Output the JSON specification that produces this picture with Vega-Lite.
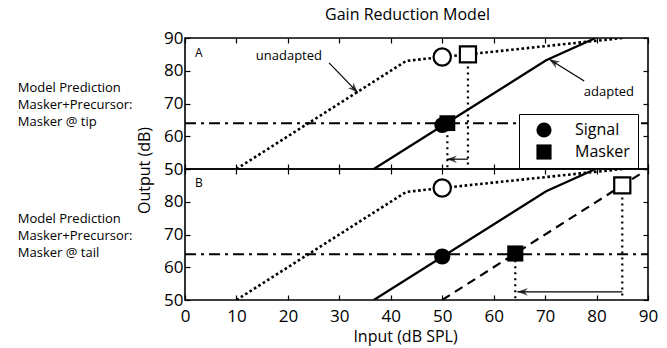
{
  "$schema": "https://vega.github.io/schema/vega-lite/v6.json",
  "padding": {"left": 17, "top": 6, "right": 5, "bottom": 5},
  "bounds": "flush",
  "config": {
    "font": "Open Sans",
    "view": {"stroke": "black", "strokeWidth": 1.6},
    "axis": {"grid": false, "domain": false, "tickColor": "black", "tickSize": -5, "tickWidth": 1.2, "labelPadding": 8, "labelFontSize": 17, "labelColor": "black", "labelFlush": false, "labelOverlap": false, "titleColor": "black", "titleFontWeight": "normal", "titleFontSize": 16},
    "title": {"fontSize": 16, "fontWeight": "normal", "color": "black"},
    "legend": {"labelColor": "black"}
  },
  "datasets": {
    "curves": [
      {"panel": "A", "curve": "unadapted", "x": 10, "y": 50},
      {"panel": "A", "curve": "unadapted", "x": 43, "y": 83},
      {"panel": "A", "curve": "unadapted", "x": 50, "y": 84.2},
      {"panel": "A", "curve": "unadapted", "x": 55, "y": 85},
      {"panel": "A", "curve": "unadapted", "x": 85, "y": 90},
      {"panel": "A", "curve": "adapted", "x": 36.7, "y": 50},
      {"panel": "A", "curve": "adapted", "x": 70.2, "y": 83.2},
      {"panel": "A", "curve": "adapted", "x": 79.8, "y": 90},
      {"panel": "B", "curve": "unadapted", "x": 10, "y": 50},
      {"panel": "B", "curve": "unadapted", "x": 43, "y": 83},
      {"panel": "B", "curve": "unadapted", "x": 50, "y": 84.2},
      {"panel": "B", "curve": "unadapted", "x": 85, "y": 90},
      {"panel": "B", "curve": "adapted", "x": 36.7, "y": 50},
      {"panel": "B", "curve": "adapted", "x": 70.2, "y": 83.2},
      {"panel": "B", "curve": "adapted", "x": 79.8, "y": 90},
      {"panel": "B", "curve": "shifted", "x": 50, "y": 50},
      {"panel": "B", "curve": "shifted", "x": 88.6, "y": 88.6}
    ],
    "ref": [
      {"panel": "A", "x": 0, "x2": 90, "y": 64},
      {"panel": "B", "x": 0, "x2": 90, "y": 64}
    ],
    "guides": [
      {"panel": "A", "g": "open", "x": 55, "y": 85},
      {"panel": "A", "g": "open", "x": 55, "y": 50},
      {"panel": "A", "g": "filled", "x": 51, "y": 64},
      {"panel": "A", "g": "filled", "x": 51, "y": 50.5},
      {"panel": "B", "g": "open", "x": 85, "y": 85},
      {"panel": "B", "g": "open", "x": 85, "y": 50},
      {"panel": "B", "g": "filled", "x": 64.2, "y": 64},
      {"panel": "B", "g": "filled", "x": 64.2, "y": 50}
    ],
    "markers": [
      {"panel": "A", "role": "Signal", "kind": "open", "x": 50, "y": 84.2},
      {"panel": "A", "role": "Masker", "kind": "open", "x": 55, "y": 85},
      {"panel": "A", "role": "Signal", "kind": "filled", "x": 50, "y": 63.4},
      {"panel": "A", "role": "Masker", "kind": "filled", "x": 51, "y": 64},
      {"panel": "B", "role": "Signal", "kind": "open", "x": 50, "y": 84.2},
      {"panel": "B", "role": "Masker", "kind": "open", "x": 85, "y": 85},
      {"panel": "B", "role": "Signal", "kind": "filled", "x": 50, "y": 63.3},
      {"panel": "B", "role": "Masker", "kind": "filled", "x": 64.2, "y": 64.2}
    ],
    "arrows": [
      {"panel": "A", "arrow": "shift", "end": "tail", "x": 55, "y": 53},
      {"panel": "A", "arrow": "shift", "end": "head", "x": 50.9, "y": 53},
      {"panel": "A", "arrow": "unadapted", "end": "tail", "x": 28, "y": 82.4},
      {"panel": "A", "arrow": "unadapted", "end": "head", "x": 33.6, "y": 73.3},
      {"panel": "A", "arrow": "adapted", "end": "tail", "x": 77.6, "y": 76.9},
      {"panel": "A", "arrow": "adapted", "end": "head", "x": 70.8, "y": 83.5},
      {"panel": "B", "arrow": "shift", "end": "tail", "x": 85, "y": 52.5},
      {"panel": "B", "arrow": "shift", "end": "head", "x": 64.6, "y": 52.5}
    ],
    "words": [
      {"panel": "A", "x": 20.2, "y": 84.5, "text": "unadapted"},
      {"panel": "A", "x": 82.4, "y": 73.5, "text": "adapted"}
    ],
    "letters": [
      {"panel": "A", "x": 2.7, "y": 85.3, "text": "A"},
      {"panel": "B", "x": 2.7, "y": 85.6, "text": "B"}
    ],
    "side": [
      {"panel": "A", "x": -32.5, "y": 74.8, "text": "Model Prediction"},
      {"panel": "A", "x": -32.5, "y": 69.6, "text": "Masker+Precursor:"},
      {"panel": "A", "x": -32.5, "y": 64.4, "text": "Masker @ tip"},
      {"panel": "B", "x": -32.5, "y": 74.8, "text": "Model Prediction"},
      {"panel": "B", "x": -32.5, "y": 69.6, "text": "Masker+Precursor:"},
      {"panel": "B", "x": -32.5, "y": 64.4, "text": "Masker @ tail"}
    ]
  },
  "spacing": 0,
  "resolve": {"scale": {"shape": "independent"}, "legend": {"shape": "independent"}},
  "vconcat": [
    {
      "title": {"text": "Gain Reduction Model", "anchor": "middle", "dx": -9, "offset": 6},
      "width": 463,
      "height": 131,
      "encoding": {
        "x": {"field": "x", "type": "quantitative", "scale": {"domain": [0, 90], "nice": false, "zero": false}, "axis": null},
        "y": {"field": "y", "type": "quantitative", "scale": {"domain": [50, 90], "nice": false, "zero": false}, "axis": null}
      },
      "layer": [
        {
          "data": {"name": "ref"},
          "transform": [{"filter": "datum.panel == 'A'"}],
          "mark": {"type": "rule", "color": "black", "strokeWidth": 2, "strokeDash": [11, 5, 3, 5]},
          "encoding": {"x2": {"field": "x2"}}
        },
        {
          "data": {"name": "curves"},
          "transform": [{"filter": "datum.panel == 'A' && datum.curve == 'unadapted'"}],
          "mark": {"type": "line", "color": "black", "strokeWidth": 2.6, "strokeDash": [2.6, 2.6], "clip": true},
          "encoding": {
            "x": {"field": "x", "type": "quantitative", "axis": {"orient": "bottom", "values": [0, 10, 20, 30, 40, 50, 60, 70, 80, 90], "labels": false, "title": null}},
            "y": {"field": "y", "type": "quantitative", "axis": {"orient": "left", "values": [50, 60, 70, 80, 90], "labelPadding": 7, "title": "Output (dB)", "titleX": -41, "titleY": 132, "titleAngle": -90, "titleAlign": "center", "titleBaseline": "middle"}}
          }
        },
        {
          "data": {"name": "curves"},
          "transform": [{"filter": "datum.panel == 'A' && datum.curve == 'adapted'"}],
          "mark": {"type": "line", "color": "black", "strokeWidth": 2.3, "clip": true}
        },
        {
          "data": {"name": "guides"},
          "transform": [{"filter": "datum.panel == 'A'"}],
          "mark": {"type": "line", "color": "black", "strokeWidth": 2.2, "strokeDash": [2, 4]},
          "encoding": {
            "detail": {"field": "g"},
            "x": {"field": "x", "type": "quantitative", "axis": {"orient": "top", "values": [0, 10, 20, 30, 40, 50, 60, 70, 80, 90], "labels": false, "title": null}},
            "y": {"field": "y", "type": "quantitative", "axis": {"orient": "right", "values": [50, 60, 70, 80, 90], "labels": false, "title": null}}
          }
        },
        {
          "data": {"name": "arrows"},
          "transform": [{"filter": "datum.panel == 'A'"}],
          "mark": {"type": "line", "color": "black", "strokeWidth": 1.2},
          "encoding": {"detail": {"field": "arrow"}}
        },
        {
          "data": {"name": "arrows"},
          "transform": [{"filter": "datum.panel == 'A' && datum.end == 'head' && datum.arrow == 'shift'"}],
          "mark": {"type": "point", "shape": "M0,0L2,-0.75L1.4,0L2,0.75Z", "filled": true, "color": "black", "size": 100, "angle": 0}
        },
        {
          "data": {"name": "arrows"},
          "transform": [{"filter": "datum.panel == 'A' && datum.end == 'head' && datum.arrow == 'unadapted'"}],
          "mark": {"type": "point", "shape": "M0,0L2,-0.75L1.4,0L2,0.75Z", "filled": true, "color": "black", "size": 110, "angle": 226}
        },
        {
          "data": {"name": "arrows"},
          "transform": [{"filter": "datum.panel == 'A' && datum.end == 'head' && datum.arrow == 'adapted'"}],
          "mark": {"type": "point", "shape": "M0,0L2,-0.75L1.4,0L2,0.75Z", "filled": true, "color": "black", "size": 110, "angle": 32}
        },
        {
          "data": {"name": "markers"},
          "transform": [{"filter": "datum.panel == 'A' && datum.kind == 'open' && datum.role == 'Signal'"}],
          "mark": {"type": "point", "shape": "circle", "filled": true, "fill": "white", "stroke": "black", "strokeWidth": 2.2, "size": 300, "opacity": 1}
        },
        {
          "data": {"name": "markers"},
          "transform": [{"filter": "datum.panel == 'A' && datum.kind == 'open' && datum.role == 'Masker'"}],
          "mark": {"type": "point", "shape": "square", "filled": true, "fill": "white", "stroke": "black", "strokeWidth": 2.2, "size": 260, "opacity": 1}
        },
        {
          "data": {"name": "markers"},
          "transform": [{"filter": "datum.panel == 'A' && datum.kind == 'filled'"}],
          "mark": {"type": "point", "filled": true, "color": "black", "size": 250, "opacity": 1},
          "encoding": {
            "shape": {"field": "role", "type": "nominal", "scale": {"domain": ["Signal", "Masker"], "range": ["circle", "square"]},
              "legend": {"orient": "none", "legendX": 334, "legendY": 76, "title": null, "padding": 8, "strokeColor": "black", "fillColor": "white", "labelFontSize": 16, "labelColor": "black", "symbolSize": 230, "symbolFillColor": "black", "symbolStrokeColor": "black", "symbolStrokeWidth": 0, "symbolOffset": 9, "labelOffset": 23, "rowPadding": 6}}
          }
        },
        {
          "data": {"name": "words"},
          "transform": [{"filter": "datum.panel == 'A'"}],
          "mark": {"type": "text", "fontSize": 13, "color": "black", "align": "center", "baseline": "middle"},
          "encoding": {"text": {"field": "text"}}
        },
        {
          "data": {"name": "letters"},
          "transform": [{"filter": "datum.panel == 'A'"}],
          "mark": {"type": "text", "fontSize": 12, "color": "black", "align": "center", "baseline": "middle"},
          "encoding": {"text": {"field": "text"}}
        },
        {
          "data": {"name": "side"},
          "transform": [{"filter": "datum.panel == 'A'"}],
          "mark": {"type": "text", "fontSize": 13, "color": "black", "align": "left", "baseline": "middle", "clip": false},
          "encoding": {"text": {"field": "text"}}
        }
      ]
    },
    {
      "width": 463,
      "height": 131,
      "encoding": {
        "x": {"field": "x", "type": "quantitative", "scale": {"domain": [0, 90], "nice": false, "zero": false}, "axis": null},
        "y": {"field": "y", "type": "quantitative", "scale": {"domain": [50, 90], "nice": false, "zero": false}, "axis": null}
      },
      "layer": [
        {
          "data": {"name": "ref"},
          "transform": [{"filter": "datum.panel == 'B'"}],
          "mark": {"type": "rule", "color": "black", "strokeWidth": 2, "strokeDash": [11, 5, 3, 5]},
          "encoding": {"x2": {"field": "x2"}}
        },
        {
          "data": {"name": "curves"},
          "transform": [{"filter": "datum.panel == 'B' && datum.curve == 'unadapted'"}],
          "mark": {"type": "line", "color": "black", "strokeWidth": 2.6, "strokeDash": [2.6, 2.6], "clip": true},
          "encoding": {
            "x": {"field": "x", "type": "quantitative", "axis": {"orient": "bottom", "values": [0, 10, 20, 30, 40, 50, 60, 70, 80, 90], "labelPadding": 13, "title": "Input (dB SPL)", "titleX": 220, "titleY": 36, "titleAlign": "center", "titleBaseline": "middle"}},
            "y": {"field": "y", "type": "quantitative", "axis": {"orient": "left", "values": [50, 60, 70, 80, 90], "labelPadding": 7, "labelExpr": "datum.value == 90 ? '' : datum.label", "title": null}}
          }
        },
        {
          "data": {"name": "curves"},
          "transform": [{"filter": "datum.panel == 'B' && datum.curve == 'adapted'"}],
          "mark": {"type": "line", "color": "black", "strokeWidth": 2.3, "clip": true}
        },
        {
          "data": {"name": "curves"},
          "transform": [{"filter": "datum.panel == 'B' && datum.curve == 'shifted'"}],
          "mark": {"type": "line", "color": "black", "strokeWidth": 2.2, "strokeDash": [9, 6], "clip": true}
        },
        {
          "data": {"name": "guides"},
          "transform": [{"filter": "datum.panel == 'B'"}],
          "mark": {"type": "line", "color": "black", "strokeWidth": 2.2, "strokeDash": [2, 4]},
          "encoding": {
            "detail": {"field": "g"},
            "x": {"field": "x", "type": "quantitative", "axis": {"orient": "top", "values": [0, 10, 20, 30, 40, 50, 60, 70, 80, 90], "labels": false, "title": null}},
            "y": {"field": "y", "type": "quantitative", "axis": {"orient": "right", "values": [50, 60, 70, 80, 90], "labels": false, "title": null}}
          }
        },
        {
          "data": {"name": "arrows"},
          "transform": [{"filter": "datum.panel == 'B'"}],
          "mark": {"type": "line", "color": "black", "strokeWidth": 1.2},
          "encoding": {"detail": {"field": "arrow"}}
        },
        {
          "data": {"name": "arrows"},
          "transform": [{"filter": "datum.panel == 'B' && datum.end == 'head'"}],
          "mark": {"type": "point", "shape": "M0,0L2,-0.75L1.4,0L2,0.75Z", "filled": true, "color": "black", "size": 110, "angle": 0}
        },
        {
          "data": {"name": "markers"},
          "transform": [{"filter": "datum.panel == 'B' && datum.kind == 'open' && datum.role == 'Signal'"}],
          "mark": {"type": "point", "shape": "circle", "filled": true, "fill": "white", "stroke": "black", "strokeWidth": 2.2, "size": 300, "opacity": 1}
        },
        {
          "data": {"name": "markers"},
          "transform": [{"filter": "datum.panel == 'B' && datum.kind == 'open' && datum.role == 'Masker'"}],
          "mark": {"type": "point", "shape": "square", "filled": true, "fill": "white", "stroke": "black", "strokeWidth": 2.2, "size": 260, "opacity": 1}
        },
        {
          "data": {"name": "markers"},
          "transform": [{"filter": "datum.panel == 'B' && datum.kind == 'filled'"}],
          "mark": {"type": "point", "filled": true, "color": "black", "size": 260, "opacity": 1},
          "encoding": {
            "shape": {"field": "role", "type": "nominal", "scale": {"domain": ["Signal", "Masker"], "range": ["circle", "square"]}, "legend": null}
          }
        },
        {
          "data": {"name": "letters"},
          "transform": [{"filter": "datum.panel == 'B'"}],
          "mark": {"type": "text", "fontSize": 12, "color": "black", "align": "center", "baseline": "middle"},
          "encoding": {"text": {"field": "text"}}
        },
        {
          "data": {"name": "side"},
          "transform": [{"filter": "datum.panel == 'B'"}],
          "mark": {"type": "text", "fontSize": 13, "color": "black", "align": "left", "baseline": "middle", "clip": false},
          "encoding": {"text": {"field": "text"}}
        }
      ]
    }
  ]
}
